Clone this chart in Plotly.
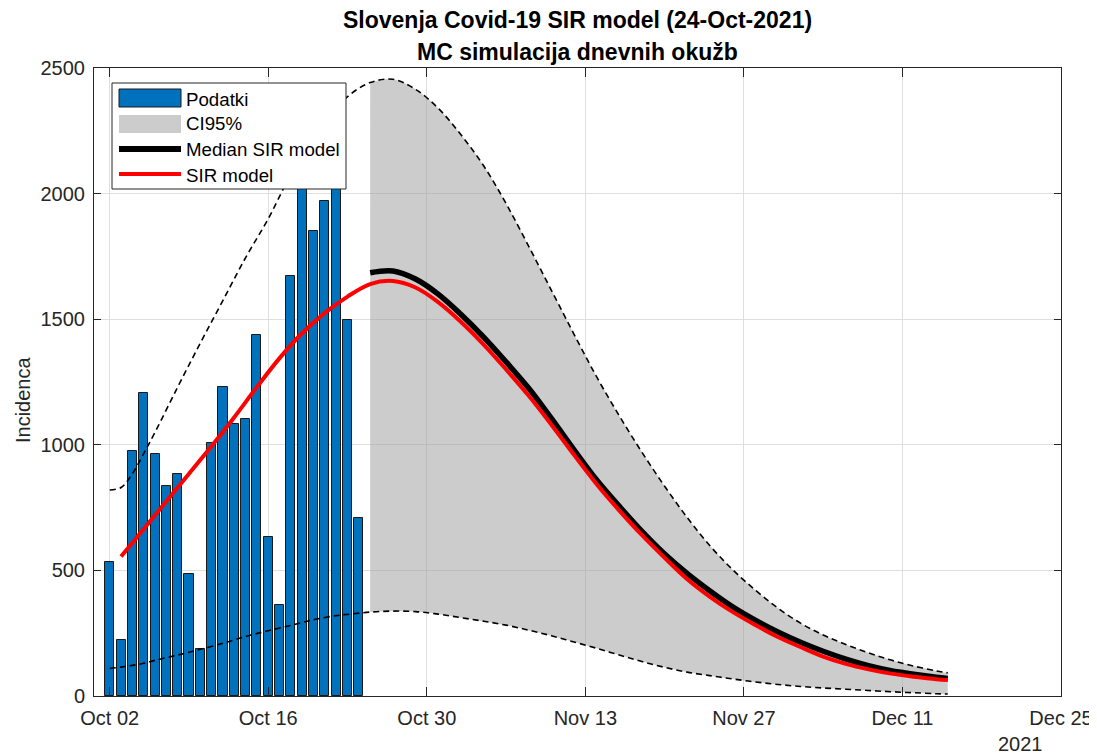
import pandas as pd
import plotly.graph_objects as go

# ---------------- data ----------------
bar_start = "2021-10-02"
cases = [533, 222, 976, 1206, 965, 837, 882, 487, 186, 1006, 1229, 1081,
         1104, 1437, 632, 362, 1673, 2200, 1852, 1970, 2350, 1497, 707]

ci_dates = ["2021-10-02", "2021-10-03", "2021-10-04", "2021-10-05", "2021-10-06",
            "2021-10-08", "2021-10-10", "2021-10-12", "2021-10-14", "2021-10-16",
            "2021-10-18", "2021-10-20", "2021-10-22", "2021-10-23", "2021-10-25",
            "2021-10-27", "2021-10-29", "2021-10-31", "2021-11-02", "2021-11-04",
            "2021-11-06", "2021-11-08", "2021-11-10", "2021-11-12", "2021-11-14",
            "2021-11-16", "2021-11-18", "2021-11-20", "2021-11-22", "2021-11-24",
            "2021-11-26", "2021-11-28", "2021-11-30", "2021-12-02", "2021-12-04",
            "2021-12-06", "2021-12-08", "2021-12-10", "2021-12-12", "2021-12-14",
            "2021-12-15"]
ci_upper = [820, 830, 885, 965, 1050, 1230, 1405, 1575, 1745, 1900, 2075, 2210,
            2330, 2386, 2442, 2455, 2415, 2340, 2235, 2112, 1960, 1790, 1615,
            1440, 1270, 1115, 970, 835, 710, 598, 503, 422, 350, 290, 243, 205,
            172, 143, 119, 100, 92]
ci_lower = [110, 115, 122, 130, 142, 163, 186, 210, 237, 260, 281, 304, 320,
            325, 334, 338, 336, 326, 312, 298, 282, 262, 240, 215, 190, 163,
            137, 114, 95, 81, 68, 56, 46, 38, 32, 27, 22, 17, 13, 9, 8]

fill_from = 14  # 2021-10-25
median_dates = ci_dates[fill_from:]
median_sir = [1685, 1692, 1660, 1600, 1520, 1430, 1330, 1225, 1105, 980, 860,
              755, 655, 565, 487, 418, 355, 302, 255, 214, 178, 147, 121, 101,
              87, 75, 70]

sir_dates = ["2021-10-03", "2021-10-05", "2021-10-07", "2021-10-09", "2021-10-11",
             "2021-10-13", "2021-10-15", "2021-10-17", "2021-10-19", "2021-10-21",
             "2021-10-23"] + median_dates
sir_model = [555, 665, 775, 885, 995, 1110, 1230, 1345, 1445, 1525, 1590,
             1640, 1652, 1626, 1568, 1490, 1400, 1300, 1195, 1080, 960, 843,
             738, 640, 550, 465, 395, 335, 283, 235, 195, 157, 128, 106, 89, 77,
             67, 64]

x_tick_vals = ["2021-10-02", "2021-10-16", "2021-10-30", "2021-11-13",
               "2021-11-27", "2021-12-11", "2021-12-25"]
x_tick_text = ["Oct 02", "Oct 16", "Oct 30", "Nov 13", "Nov 27", "Dec 11", "Dec 25"]
y_tick_vals = [0, 500, 1000, 1500, 2000, 2500]

title_lines = ["Slovenja Covid-19 SIR model (24-Oct-2021)",
               "MC simulacija dnevnih okužb"]
legend_labels = ["Podatki", "CI95%", "Median SIR model", "SIR model"]
y_title = "Incidenca"
year_label = "2021"

# ---------------- figure ----------------
FONT = "Liberation Sans, Arial, Helvetica, sans-serif"
AX = "#262626"
GRID = "#dfdfdf"
BLUE = "#0072BD"

# the page body has an 8px margin: compensate so the plot area lands at the
# reference position (left 94, top 68, 967 x 628 in window pixels)
OFF = 8
L, T, PW, PH = 94, 68, 967, 628
FW, FH = 1097 - OFF, 756 - OFF

bar_dates = pd.date_range(bar_start, periods=len(cases), freq="D")

fig = go.Figure()

fig.add_trace(go.Bar(
    x=bar_dates, y=cases, width=0.8 * 86400000,
    marker=dict(color=BLUE, line=dict(color="#1a1a1a", width=1)),
    showlegend=False, hoverinfo="x+y"))

fig.add_trace(go.Scatter(
    x=ci_dates[fill_from:], y=ci_lower[fill_from:], mode="lines",
    line=dict(width=0, shape="spline"), showlegend=False, hoverinfo="skip"))
fig.add_trace(go.Scatter(
    x=ci_dates[fill_from:], y=ci_upper[fill_from:], mode="lines",
    line=dict(width=0, shape="spline"), fill="tonexty",
    fillcolor="rgba(153,153,153,0.5)", showlegend=False, hoverinfo="skip"))

for ys in (ci_upper, ci_lower):
    fig.add_trace(go.Scatter(
        x=ci_dates, y=ys, mode="lines",
        line=dict(color="black", width=1.6, dash="6px,4px", shape="spline"),
        showlegend=False))

fig.add_trace(go.Scatter(
    x=median_dates, y=median_sir, mode="lines",
    line=dict(color="black", width=5.5, shape="spline"), showlegend=False))
fig.add_trace(go.Scatter(
    x=sir_dates, y=sir_model, mode="lines",
    line=dict(color="#FF0000", width=4, shape="spline"), showlegend=False))


def px(x):
    return (x - L) / PW


def py(y):
    return (T + PH - y) / PH


# ---------------- manual legend (paper coords) ----------------
shapes = [
    dict(type="rect", xref="paper", yref="paper", x0=px(112), x1=px(346),
         y0=py(189), y1=py(83), fillcolor="white",
         line=dict(color=AX, width=1)),
    dict(type="rect", xref="paper", yref="paper", x0=px(119), x1=px(181),
         y0=py(107), y1=py(89), fillcolor=BLUE,
         line=dict(color="#1a1a1a", width=1)),
    dict(type="rect", xref="paper", yref="paper", x0=px(119), x1=px(181),
         y0=py(133), y1=py(115), fillcolor="#cccccc", line=dict(width=0)),
    dict(type="line", xref="paper", yref="paper", x0=px(119), x1=px(181),
         y0=py(149), y1=py(149), line=dict(color="black", width=6)),
    dict(type="line", xref="paper", yref="paper", x0=px(119), x1=px(181),
         y0=py(174), y1=py(174), line=dict(color="#FF0000", width=4)),
]
annotations = []
for lab, yy in zip(legend_labels, [99, 124, 149, 175]):
    annotations.append(dict(
        text=lab, xref="paper", yref="paper", x=px(184), y=py(yy),
        xanchor="left", yanchor="middle", showarrow=False,
        font=dict(family=FONT, size=18.7, color="black")))

for line, yy in zip(title_lines, [20, 52]):
    annotations.append(dict(
        text="<b>" + line + "</b>", xref="paper", yref="paper",
        x=px(577), y=py(yy), xanchor="center", yanchor="middle",
        showarrow=False, font=dict(family=FONT, size=23, color="black")))

annotations.append(dict(
    text=y_title, xref="paper", yref="paper", x=px(23), y=py(400),
    xanchor="center", yanchor="middle", textangle=-90, showarrow=False,
    font=dict(family=FONT, size=20, color=AX)))
annotations.append(dict(
    text=year_label, xref="paper", yref="paper", x=px(1020), y=py(744),
    xanchor="center", yanchor="middle", showarrow=False,
    font=dict(family=FONT, size=20, color=AX)))

fig.update_layout(
    width=FW, height=FH, autosize=False,
    margin=dict(l=L - OFF, r=FW - (L - OFF) - PW, t=T - OFF,
                b=FH - (T - OFF) - PH, pad=0),
    paper_bgcolor="white", plot_bgcolor="white",
    bargap=0, showlegend=False,
    font=dict(family=FONT, size=20, color=AX),
    shapes=shapes, annotations=annotations,
)

fig.update_xaxes(
    type="date", range=["2021-09-30 14:40", "2021-12-25"],
    tickvals=x_tick_vals, ticktext=x_tick_text, automargin=False,
    ticklabeloverflow="allow",
    showgrid=True, gridcolor=GRID, gridwidth=1,
    showline=True, linecolor=AX, linewidth=1, mirror="ticks",
    ticks="inside", ticklen=9, tickcolor=AX, zeroline=False,
    ticklabelstandoff=4,
    tickfont=dict(family=FONT, size=20, color=AX))
fig.update_yaxes(
    range=[0, 2500], tickvals=y_tick_vals, automargin=False,
    ticklabeloverflow="allow",
    showgrid=True, gridcolor=GRID, gridwidth=1,
    showline=True, linecolor=AX, linewidth=1, mirror="ticks",
    ticks="inside", ticklen=7, tickcolor=AX, zeroline=False,
    ticklabelstandoff=4,
    tickfont=dict(family=FONT, size=20, color=AX))

fig.write_html("out.html")
